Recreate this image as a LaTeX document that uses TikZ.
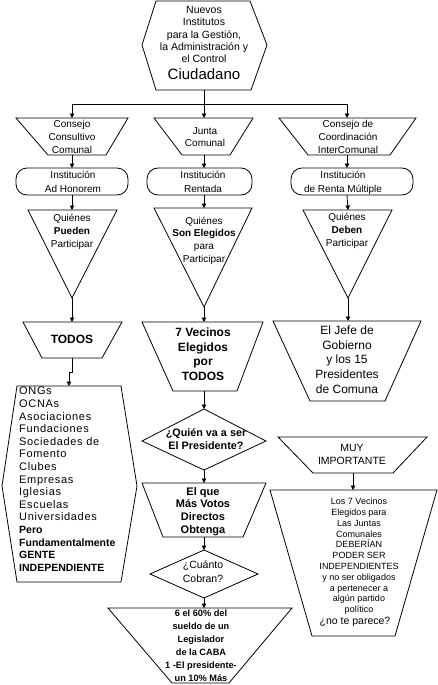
\documentclass[tikz,border=0pt]{standalone}
\usepackage{fontspec}
\setmainfont{Liberation Sans}
\newfontfamily\listfont[LetterSpace=6]{Liberation Sans}
\usetikzlibrary{arrows.meta}
\newcommand{\myfs}[2]{\fontsize{#1}{#2}\selectfont}
\newcommand{\lb}[1]{{\normalfont\bfseries\fontsize{10.5}{12.6}\selectfont #1}}
\begin{document}
\begin{tikzpicture}[x=1pt,y=-1pt,
  shp/.style={draw,line width=0.8pt,line join=miter},
  arr/.style={draw,line width=0.8pt,-{Triangle[length=4.5pt,width=4.5pt]}},
  ln/.style={draw,line width=0.8pt},
  txt/.style={inner sep=0pt,align=center,anchor=north}]
\useasboundingbox[fill=white] (0,0) rectangle (438,685);

% ---------- top hexagon
\draw[shp] (156,1) -- (250,1) -- (267,45) -- (251,90) -- (156,90) -- (142,45) -- cycle;
\coordinate (h0b) at (204,90);
\node[txt,font=\myfs{10.5}{12.2}] (t0) at (204,6.2) {Nuevos\\Institutos\\para la Gestión,\\la Administración y\\el Control};
\node[inner sep=0pt,anchor=base,font=\myfs{15}{15}] (t0b) at (204,80) {Ciudadano};

% ---------- row 1 trapezoids
\draw[shp] (16,118) -- (128,118) -- (106,155) -- (48,155) -- cycle;
\draw[shp] (154,118) -- (253,118) -- (230,155) -- (182,155) -- cycle;
\draw[shp] (279,118) -- (416,118) -- (390,155) -- (308,155) -- cycle;
\coordinate (aLt) at (72,118);  \coordinate (aLb) at (72,155);
\coordinate (aMt) at (204,118); \coordinate (aMb) at (204,155);
\coordinate (aRt) at (347,118); \coordinate (aRb) at (347,155);
\node[txt,font=\myfs{10}{13}] (ta1) at (72,120.5) {Consejo\\Consultivo\\Comunal};
\node[txt,font=\myfs{10}{12}] (ta2) at (205,127.5) {Junta\\Comunal};
\node[txt,font=\myfs{10}{13}] (ta3) at (348,120.5) {Consejo de\\Coordinación\\InterComunal};

% connectors from top
\coordinate (jn) at (204,104);
\coordinate (jl) at (72,104);
\coordinate (jr) at (347,104);
\draw[ln] (h0b) -- (jn);
\draw[ln] (jl) -- (jr);
\draw[arr] (jl) -- (aLt);
\draw[arr] (jn) -- (aMt);
\draw[arr] (jr) -- (aRt);

% ---------- rounded boxes
\draw[shp,rounded corners=11pt] (16,168) rectangle (128,195);
\draw[shp,rounded corners=11pt] (147,168) rectangle (252,195);
\draw[shp,rounded corners=11pt] (291,168) rectangle (413,195);
\coordinate (bLt) at (72,168);  \coordinate (bLb) at (72,195);
\coordinate (bMt) at (204,168); \coordinate (bMb) at (204,195);
\coordinate (bRt) at (347,168); \coordinate (bRb) at (347,195);
\node[txt,font=\myfs{10}{14}] (tb1) at (73,170.5) {Institución\\Ad Honorem};
\node[txt,font=\myfs{10}{14}] (tb2) at (203,170.5) {Institución\\Rentada};
\node[txt,font=\myfs{10}{14}] (tb3) at (343,170.5) {Institución\\de Renta Múltiple};
\draw[arr] (aLb) -- (bLt);
\draw[arr] (aMb) -- (bMt);
\draw[arr] (aRb) -- (bRt);

% ---------- triangles
\draw[shp] (28,210) -- (117,210) -- (72,298) -- cycle;
\draw[shp] (154,208) -- (252,208) -- (204,307) -- cycle;
\draw[shp] (303,210) -- (392,210) -- (348,298) -- cycle;
\coordinate (cLt) at (72,210);  \coordinate (cLb) at (72,298);
\coordinate (cMt) at (204,208); \coordinate (cMb) at (204,307);
\coordinate (cRt) at (348,210); \coordinate (cRb) at (348,298);
\node[txt,font=\myfs{10}{13}] (tc1) at (72,213.5) {Quiénes\\\textbf{Pueden}\\Participar};
\node[txt,font=\myfs{10}{12.7}] (tc2) at (204,216.5) {Quiénes\\\textbf{Son Elegidos}\\para\\Participar};
\node[txt,font=\myfs{10}{13}] (tc3) at (347,212.5) {Quiénes\\\textbf{Deben}\\Participar};
\draw[arr] (bLb) -- (cLt);
\draw[arr] (bMb) -- (cMt);
\draw[arr] (bRb) -- (cRt);

% ---------- row 3 trapezoids
\draw[shp] (23,322) -- (122,322) -- (102,358) -- (42,358) -- cycle;
\draw[shp] (142,322) -- (263,322) -- (237,391) -- (173,391) -- cycle;
\draw[shp] (273,321) -- (421,321) -- (385,401) -- (310,401) -- cycle;
\coordinate (dLt) at (72,322);  \coordinate (dLb) at (72,358);
\coordinate (dMt) at (204,322); \coordinate (dMb) at (204,391);
\coordinate (dRt) at (348,321);
\node[inner sep=0pt,font=\myfs{12}{14}\bfseries] (td1) at (72,339) {TODOS};
\node[txt,font=\myfs{12}{14.7}\bfseries] (td2) at (203,327.5) {7 Vecinos\\Elegidos\\por\\TODOS};
\node[txt,font=\myfs{12}{14.7}] (td3) at (347,325.5) {El Jefe de\\Gobierno\\y los 15\\Presidentes\\de Comuna};
\draw[arr] (cLb) -- (dLt);
\draw[arr] (cMb) -- (dMt);
\draw[arr] (cRb) -- (dRt);

% ---------- list hexagon
\draw[shp] (17,386) -- (121,386) -- (137,486) -- (121,582) -- (17,582) -- (2,486) -- cycle;
\coordinate (eLt) at (69,386);
\coordinate (k1) at (72,372);
\coordinate (k2) at (69,372);
\node[inner sep=0pt,align=left,anchor=north west,font=\listfont\myfs{11}{12.6}] (te1) at (19,387)
 {ONGs\\OCNAs\\Asociaciones\\Fundaciones\\Sociedades de\\Fomento\\Clubes\\Empresas\\Iglesias\\Escuelas\\Universidades\\\lb{Pero}\\\lb{Fundamentalmente}\\\lb{GENTE}\\\lb{INDEPENDIENTE}};
\draw[ln] (dLb) -- (k1) -- (k2);
\draw[arr] (k2) -- (eLt);

% ---------- middle column
\draw[shp] (204,409) -- (266,441) -- (204,470) -- (142,441) -- cycle;
\coordinate (fT) at (204,409); \coordinate (fB) at (204,470);
\node[txt,font=\myfs{10.8}{13}\bfseries] (tf) at (206,428) {¿Quién va a ser\\El Presidente?};
\draw[arr] (dMb) -- (fT);

\draw[shp] (142,483) -- (266,483) -- (243,537) -- (163,537) -- cycle;
\coordinate (gT) at (204,483); \coordinate (gB) at (204,537);
\node[txt,font=\myfs{11}{12.7}\bfseries] (tg) at (203,487) {El que\\Más Votos\\Directos\\Obtenga};
\draw[arr] (fB) -- (gT);

\draw[shp] (204,550) -- (258,574) -- (204,598) -- (150,574) -- cycle;
\coordinate (hT) at (204,550); \coordinate (hB) at (204,598);
\node[txt,font=\myfs{10.5}{14.5}] (th) at (203,560.5) {¿Cuánto\\Cobran?};
\draw[arr] (gB) -- (hT);

\draw[shp] (108,608) -- (292,608) -- (229,683) -- (172,683) -- cycle;
\coordinate (iT) at (204,608);
\node[txt,font=\myfs{9.2}{13}\bfseries] (ti) at (201,609.5) {6 el 60\% del\\sueldo de un\\Legislador\\de la CABA\\1 -El presidente-\\un 10\% Más};
\draw[arr] (hB) -- (iT);

% ---------- right column
\draw[shp] (278,437) -- (427,437) -- (393,473) -- (313,473) -- cycle;
\coordinate (jB) at (353,473);
\node[txt,font=\myfs{10.5}{13}] (tj) at (352,444.5) {MUY\\IMPORTANTE};

\draw[shp] (270,490) -- (437,490) -- (395,636) -- (312,636) -- cycle;
\coordinate (kT) at (353,490);
\node[txt,font=\myfs{9}{10.8}] (tk) at (359,498) {Los 7 Vecinos\\Elegidos para\\Las Juntas\\Comunales\\DEBERÍAN\\PODER SER\\INDEPENDIENTES\\y no ser obligados\\a pertenecer a\\algún partido\\político};
\node[inner sep=0pt,font=\myfs{10.5}{12}] (tk2) at (355,622) {¿no te parece?};
\draw[arr] (jB) -- (kT);
\end{tikzpicture}
\end{document}
